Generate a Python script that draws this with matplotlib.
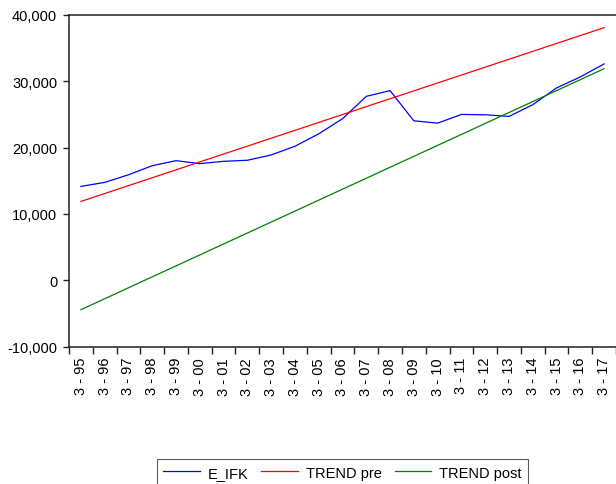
import matplotlib.pyplot as plt
from matplotlib.ticker import FuncFormatter
import numpy as np

plt.rcParams['font.family'] = ['Liberation Sans', 'DejaVu Sans']

# quarterly observations, Q3 of 1995 .. 2017
labels = ['3 - 95', '3 - 96', '3 - 97', '3 - 98', '3 - 99', '3 - 00', '3 - 01', '3 - 02',
          '3 - 03', '3 - 04', '3 - 05', '3 - 06', '3 - 07', '3 - 08', '3 - 09', '3 - 10',
          '3 - 11', '3 - 12', '3 - 13', '3 - 14', '3 - 15', '3 - 16', '3 - 17']
e_ifk = [14150, 14750, 15900, 17270, 18030, 17580, 17930, 18090, 18890, 20200, 22080, 24350,
         27730, 28590, 24040, 23690, 25000, 24950, 24700, 26470, 29000, 30660, 32630]
# fitted trend lines, first and last period values
trend_pre = [11880, 38090]
trend_post = [-4450, 31900]

x = np.arange(len(labels))
x_ends = [x[0], x[-1]]

fig = plt.figure(figsize=(6.16, 4.85), dpi=100)
ax = fig.add_axes([69/616, 1-347.5/485, 1-69/616, (347.5-16)/485])

ax.plot(x, e_ifk, color='#0000ff', lw=0.9, label='E_IFK')
ax.plot(x_ends, trend_pre, color='#ff0000', lw=0.9, label='TREND pre')
ax.plot(x_ends, trend_post, color='#008000', lw=0.9, label='TREND post')

ax.set_xlim(-0.5, len(labels) - 0.5)
ax.set_ylim(-10000, 40000)
ax.set_yticks(np.arange(-10000, 40001, 10000))
ax.yaxis.set_major_formatter(FuncFormatter(lambda v, p: f'{int(v):,}'))

# ticks between periods, labels centred on periods
ax.set_xticks(np.arange(-0.5, len(labels), 1))
ax.set_xticklabels([])
ax.set_xticks(x, minor=True)
ax.set_xticklabels(labels, minor=True, rotation=90, fontsize=10.5)
ax.tick_params(axis='x', which='minor', length=0, pad=7.5)
ax.tick_params(axis='x', which='major', length=5, width=1, direction='out', color='#222222')
ax.tick_params(axis='y', length=4.5, width=1, direction='out', labelsize=10.5, pad=4, color='#222222')

ax.spines['right'].set_visible(False)
for s in ['left', 'bottom', 'top']:
    ax.spines[s].set_linewidth(1.1)
    ax.spines[s].set_color('#222222')

leg = fig.legend(loc='upper center', bbox_to_anchor=(342.5/616, 1-460/485), ncol=3,
                 frameon=True, fancybox=False, shadow=False, fontsize=10.5,
                 handlelength=2.5, columnspacing=0.9, handletextpad=0.55, borderpad=0.45,
                 borderaxespad=0, edgecolor='#333333')
leg.get_frame().set_linewidth(0.8)

fig.savefig('out.png', dpi=100)
